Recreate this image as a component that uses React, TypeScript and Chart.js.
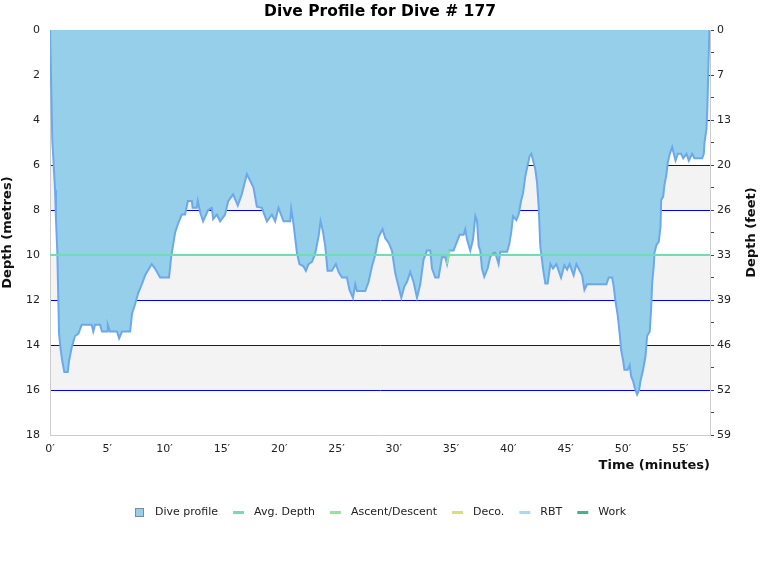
import { useEffect, useRef } from 'react';
import { Chart, registerables } from 'chart.js';

Chart.register(...registerables);

// dive profile: minutes / metres
const profileTimes = [
  0, 0.09, 0.2, 0.44, 0.52, 0.64, 0.79, 0.93, 1.07, 1.25,
  1.55, 1.66, 1.9, 2.18, 2.47, 2.77, 3.64, 3.78, 3.93, 4.37,
  4.54, 4.98, 5.04, 5.24, 5.85, 6.03, 6.29, 6.99, 7.16, 7.42,
  7.69, 8.01, 8.3, 8.88, 9.17, 9.61, 10.39, 10.57, 10.92, 11.18,
  11.5, 11.79, 12.03, 12.38, 12.45, 12.81, 12.9, 13.1, 13.36, 13.8,
  14.12, 14.24, 14.56, 14.85, 15.28, 15.55, 15.98, 16.39, 16.74, 17.18,
  17.47, 17.76, 18.05, 18.49, 18.93, 19.36, 19.65, 19.94, 20.38, 20.96,
  21.05, 21.25, 21.55, 21.77, 22.12, 22.33, 22.56, 22.86, 23.14, 23.43,
  23.61, 23.82, 24.02, 24.22, 24.6, 24.95, 25.18, 25.48, 25.91, 26.14,
  26.44, 26.64, 26.79, 27.51, 27.8, 28.1, 28.38, 28.67, 29.02, 29.26,
  29.55, 29.84, 30.13, 30.42, 30.66, 30.92, 31.15, 31.44, 31.73, 32.03,
  32.31, 32.6, 32.9, 33.19, 33.34, 33.62, 33.91, 34.21, 34.5, 34.65,
  34.87, 35.22, 35.52, 35.75, 36.1, 36.24, 36.39, 36.68, 36.92, 37.12,
  37.27, 37.41, 37.55, 37.7, 37.9, 38.19, 38.43, 38.72, 38.86, 39.15,
  39.3, 39.89, 40.09, 40.26, 40.41, 40.7, 40.9, 41.11, 41.28, 41.48,
  41.69, 41.86, 42.01, 42.16, 42.36, 42.51, 42.65, 42.79, 43.03, 43.23,
  43.43, 43.67, 43.9, 44.19, 44.39, 44.6, 44.89, 45.13, 45.35, 45.56,
  45.7, 45.94, 46.23, 46.44, 46.64, 46.87, 48.56, 48.76, 49.06, 49.2,
  49.34, 49.55, 49.72, 49.84, 50.02, 50.13, 50.42, 50.59, 50.72, 50.89,
  51.03, 51.24, 51.41, 51.53, 51.76, 51.97, 52.11, 52.34, 52.46, 52.55,
  52.69, 52.75, 52.93, 53.13, 53.28, 53.34, 53.51, 53.62, 53.8, 53.91,
  54.09, 54.3, 54.44, 54.59, 54.79, 55.08, 55.26, 55.55, 55.75, 56.04,
  56.24, 56.92, 57.06, 57.12, 57.29, 57.37, 57.48, 57.55,
];
const profileDepths = [
  0, 2.1, 4.9, 7.1, 8.4, 9.9, 13.5, 14.2, 14.7, 15.2,
  15.2, 14.7, 14.1, 13.6, 13.5, 13.1, 13.1, 13.4, 13.1, 13.1,
  13.4, 13.4, 13.1, 13.4, 13.4, 13.7, 13.4, 13.4, 12.6, 12.2,
  11.7, 11.3, 10.9, 10.4, 10.6, 11.0, 11.0, 10.1, 9.0, 8.6,
  8.2, 8.2, 7.6, 7.6, 7.9, 7.9, 7.6, 8.1, 8.5, 8.0,
  7.9, 8.4, 8.2, 8.5, 8.2, 7.6, 7.3, 7.8, 7.3, 6.4,
  6.7, 7.0, 7.85, 7.9, 8.5, 8.2, 8.5, 7.9, 8.5, 8.5,
  7.95, 8.6, 9.9, 10.4, 10.5, 10.7, 10.4, 10.3, 9.95, 9.2,
  8.5, 8.95, 9.6, 10.7, 10.7, 10.4, 10.75, 11.0, 11.0, 11.55,
  11.9, 11.3, 11.6, 11.6, 11.2, 10.5, 10.0, 9.2, 8.85, 9.25,
  9.45, 9.8, 10.8, 11.4, 11.9, 11.4, 11.2, 10.75, 11.2, 11.9,
  11.3, 10.2, 9.8, 9.8, 10.6, 11.0, 11.0, 10.1, 10.1, 10.4,
  9.8, 9.8, 9.4, 9.1, 9.1, 8.86, 9.3, 9.8, 9.3, 8.27,
  8.5, 9.6, 9.8, 10.6, 10.96, 10.6, 10.07, 9.9, 9.9, 10.4,
  9.85, 9.85, 9.5, 8.96, 8.27, 8.45, 8.2, 7.6, 7.26, 6.5,
  6.0, 5.6, 5.5, 5.8, 6.2, 6.8, 7.85, 9.6, 10.6, 11.26,
  11.26, 10.4, 10.6, 10.4, 10.7, 11.0, 10.45, 10.65, 10.4, 10.7,
  10.9, 10.4, 10.7, 10.9, 11.55, 11.3, 11.3, 11.0, 11.0, 11.4,
  12.0, 12.7, 13.5, 14.2, 14.7, 15.1, 15.1, 14.9, 15.4, 15.6,
  15.9, 16.2, 16.0, 15.6, 15.1, 14.5, 13.6, 13.4, 12.4, 11.26,
  10.5, 9.9, 9.55, 9.4, 8.74, 7.55, 7.4, 6.9, 6.4, 5.9,
  5.5, 5.2, 5.5, 5.8, 5.5, 5.5, 5.7, 5.5, 5.8, 5.5,
  5.7, 5.7, 5.5, 5.0, 4.4, 3.4, 1.3, 0,
];
const avgDepth = 10;
const ascentTimes = [34.65, 34.87];
const ascentDepths = [10.4, 9.8];

const timeMax = 57.6;
const depthMax = 18;
const shadedBands = [[2, 4], [6, 8], [10, 12], [14, 16]];
const FEET_PER_METRE = 3.28084;

const FONT = 'DejaVu Sans, Verdana, sans-serif';

// background bands, top frame line, right axis title and the legend row
const decorPlugin = {
  id: 'decor',
  beforeDraw(chart: any) {
    const { ctx, chartArea, scales } = chart;
    const y = scales.y;
    ctx.save();
    ctx.fillStyle = '#fff';
    ctx.fillRect(0, 0, chart.width, chart.height);
    ctx.fillStyle = '#f3f3f3';
    shadedBands.forEach(([a, b]) => {
      const top = y.getPixelForValue(a);
      const bottom = y.getPixelForValue(b);
      ctx.fillRect(chartArea.left, top, chartArea.right - chartArea.left, bottom - top);
    });
    ctx.restore();
  },
  beforeDatasetsDraw(chart: any) {
    const { ctx, chartArea } = chart;
    ctx.save();
    ctx.strokeStyle = '#cccccc';
    ctx.lineWidth = 1;
    ctx.beginPath();
    ctx.moveTo(chartArea.left, chartArea.top + 0.5);
    ctx.lineTo(chartArea.right, chartArea.top + 0.5);
    ctx.stroke();
    ctx.restore();
  },
  afterDraw(chart: any) {
    const { ctx, chartArea } = chart;
    ctx.save();
    // right axis title, reading bottom to top like the left one
    ctx.font = `bold 13px ${FONT}`;
    ctx.fillStyle = '#111';
    ctx.textAlign = 'center';
    ctx.textBaseline = 'middle';
    ctx.translate(chart.width - 8, (chartArea.top + chartArea.bottom) / 2);
    ctx.rotate(-Math.PI / 2);
    ctx.fillText('Depth (feet)', 0, 0);
    ctx.restore();

    // legend
    ctx.save();
    ctx.font = `11px ${FONT}`;
    ctx.textBaseline = 'middle';
    ctx.textAlign = 'left';
    const iconW = 11;
    const iconGap = 10;
    const itemGap = 15;
    const ds = chart.data.datasets;
    const widths = ds.map((d: any) => iconW + iconGap + ctx.measureText(d.label).width);
    const total = widths.reduce((a: number, b: number) => a + b, 0) + itemGap * (ds.length - 1);
    let x = Math.round(chart.width / 2 - total / 2);
    const yMid = 512.5;
    ds.forEach((d: any, i: number) => {
      if (i === 0) {
        ctx.fillStyle = d.backgroundColor;
        ctx.fillRect(x + 1.5, yMid - 4, 8, 8);
        ctx.strokeStyle = '#7f8a92';
        ctx.lineWidth = 1;
        ctx.strokeRect(x + 1.5, yMid - 4, 8, 8);
      } else {
        ctx.strokeStyle = d.borderColor;
        ctx.lineWidth = 3;
        ctx.beginPath();
        ctx.moveTo(x, yMid);
        ctx.lineTo(x + iconW, yMid);
        ctx.stroke();
      }
      ctx.fillStyle = '#222';
      ctx.fillText(d.label, x + iconW + iconGap, yMid);
      x += widths[i] + itemGap;
    });
    ctx.restore();
  },
};

export default function App() {
  const canvasRef = useRef<HTMLCanvasElement>(null);
  const chartRef = useRef<Chart>();

  useEffect(() => {
    document.body.style.margin = '0';
    if (!canvasRef.current) return;
    const ctx = canvasRef.current.getContext('2d');
    if (!ctx) return;
    chartRef.current?.destroy();

    const profile = profileTimes.map((t, i) => ({ x: t, y: profileDepths[i] }));
    const ascent = ascentTimes.map((t, i) => ({ x: t, y: ascentDepths[i] }));

    chartRef.current = new Chart(ctx, {
      type: 'line',
      data: {
        datasets: [
          {
            label: 'Dive profile',
            data: profile,
            fill: 'origin',
            backgroundColor: 'rgb(150, 207, 233)',
            borderColor: 'rgb(108, 168, 236)',
            borderWidth: 2,
            pointRadius: 0,
            tension: 0,
            order: 1,
          },
          {
            label: 'Avg. Depth',
            data: [{ x: 0, y: avgDepth }, { x: timeMax, y: avgDepth }],
            borderColor: 'rgb(112, 222, 178)',
            borderWidth: 2,
            pointRadius: 0,
            fill: false,
          },
          {
            label: 'Ascent/Descent',
            data: ascent,
            borderColor: 'rgb(144, 232, 144)',
            borderWidth: 2,
            pointRadius: 0,
            fill: false,
          },
          { label: 'Deco.', data: [], borderColor: 'rgb(214, 226, 112)', borderWidth: 2, pointRadius: 0 },
          { label: 'RBT', data: [], borderColor: 'rgb(160, 220, 246)', borderWidth: 2, pointRadius: 0 },
          { label: 'Work', data: [], borderColor: 'rgb(58, 184, 140)', borderWidth: 2, pointRadius: 0 },
        ],
      },
      options: {
        animation: false,
        responsive: true,
        maintainAspectRatio: false,
        layout: { padding: { top: 0, left: 0, right: 0, bottom: 90 } },
        plugins: {
          tooltip: { enabled: false },
          legend: { display: false },
          title: {
            display: true,
            text: 'Dive Profile for Dive # 177',
            color: '#000',
            font: { family: FONT, size: 15.5, weight: 'bold' },
            padding: { top: 3, bottom: 8.5 },
          },
        },
        scales: {
          x: {
            type: 'linear',
            min: 0,
            max: timeMax,
            grid: { display: false, drawTicks: false },
            border: { color: '#cccccc' },
            ticks: {
              stepSize: 5,
              includeBounds: false,
              padding: 8,
              maxRotation: 0,
              color: '#222',
              font: { family: FONT, size: 11 },
              callback: (v: any) => `${v}′`,
            },
            title: {
              display: true,
              text: 'Time (minutes)',
              align: 'end',
              color: '#111',
              font: { family: FONT, size: 13, weight: 'bold' },
              padding: { top: 0, bottom: 17 },
            },
            afterFit: (s: any) => { s.height = 55; },
          },
          y: {
            position: 'left',
            reverse: true,
            min: 0,
            max: depthMax,
            grid: {
              drawTicks: false,
              lineWidth: 1,
              color: (c: any) =>
                c.tick && (c.tick.value === 0 || c.tick.value === depthMax) ? 'rgba(0,0,0,0)' : '#0000ff',
            },
            border: { color: '#cccccc' },
            ticks: {
              stepSize: 2,
              padding: 10,
              color: '#222',
              font: { family: FONT, size: 11 },
            },
            title: {
              display: true,
              text: 'Depth (metres)',
              color: '#111',
              font: { family: FONT, size: 13, weight: 'bold' },
              padding: 0,
            },
            afterFit: (s: any) => { s.width = 50; },
          },
          y2: {
            position: 'right',
            reverse: true,
            min: 0,
            max: depthMax,
            grid: { drawOnChartArea: false, tickLength: 4, color: '#444' },
            border: { color: '#cccccc' },
            ticks: {
              stepSize: 1,
              autoSkip: false,
              padding: 3,
              color: '#222',
              font: { family: FONT, size: 11 },
              callback: (v: any) => (v % 2 === 0 ? String(Math.round(v * FEET_PER_METRE)) : ''),
            },
            title: { display: false },
            afterFit: (s: any) => { s.width = 50; },
          },
        },
      },
      plugins: [decorPlugin],
    } as any);

    return () => {
      chartRef.current?.destroy();
    };
  }, []);

  return (
    <div style={{ width: 760, height: 580, position: 'relative' }}>
      <canvas ref={canvasRef} />
    </div>
  );
}
